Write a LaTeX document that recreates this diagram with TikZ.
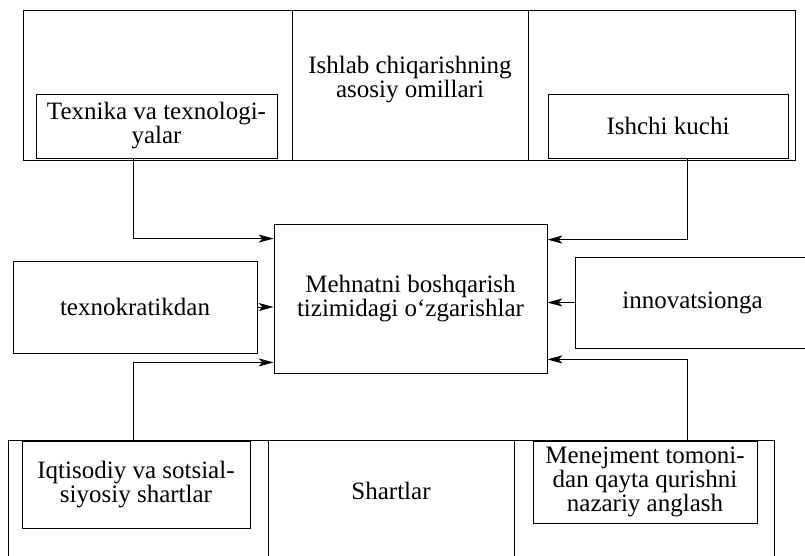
\documentclass[tikz,border=0pt]{standalone}
\usepackage{fontspec}
\setmainfont{Liberation Serif}
\usetikzlibrary{arrows.meta}

\newcommand{\boxfont}{\fontsize{25}{24}\selectfont}

\begin{document}
\begin{tikzpicture}[x=1pt,y=-1pt,line width=0.8pt,
    box/.style={draw, align=center, inner sep=0pt, font=\boxfont},
    caption/.style={align=center, inner sep=0pt, font=\boxfont},
    feed/.style={-{Stealth[length=15pt,width=8pt,inset=4pt]}}]

    \useasboundingbox (0,0) rectangle (805,556);

    % frames
    \draw (23,10) rectangle (795,160) (292,10) -- (292,160) (528,10) -- (528,160);
    \draw (8,570) |- (774,440) -- (774,570) (268,440) -- (268,570) (514,440) -- (514,570);

    \node[caption] (factors) at (410,80) {Ishlab chiqarishning\\asosiy omillari};
    \node[caption] (terms) at (391,491) {Shartlar};

    \node[box, minimum width=241pt, minimum height=64pt] (tech) at (156.5,126) {Texnika va texnologi-\\yalar};
    \node[box, minimum width=240pt, minimum height=64pt] (labour) at (668,126) {Ishchi kuchi};
    \node[box, minimum width=273pt, minimum height=149pt] (mid) at (410.5,298.5) {Mehnatni boshqarish\\tizimidagi o‘zgarishlar};
    \node[box, minimum width=244pt, minimum height=92pt] (techno) at (135,307) {texnokratikdan};
    \node[box, minimum width=235pt, minimum height=91pt] (innov) at (692.5,302.5) {innovatsionga};
    \node[box, minimum width=228pt, minimum height=87pt] (econ) at (136,484.5) {Iqtisodiy va sotsial-\\siyosiy shartlar};
    \node[box, minimum width=224pt, minimum height=82pt, font=\fontsize{25}{22}\selectfont] (mgmt) at (645,482) {Menejment tomoni-\\dan qayta qurishni\\nazariy anglash};

    \draw[feed] ([xshift=-23.5pt]tech.south) |- ([yshift=-15pt]mid.north west);
    \draw[feed] ([xshift=19pt]labour.south) |- ([yshift=-16pt]mid.north east);
    \draw[feed] (techno.east) -- (techno.east -| mid.west);
    \draw[feed] (innov.west) -- (innov.west -| mid.east);
    \draw[feed] ([xshift=-3pt]econ.north) |- ([yshift=11pt]mid.south west);
    \draw[feed] ([xshift=42pt]mgmt.north) |- ([yshift=14pt]mid.south east);

\end{tikzpicture}
\end{document}
